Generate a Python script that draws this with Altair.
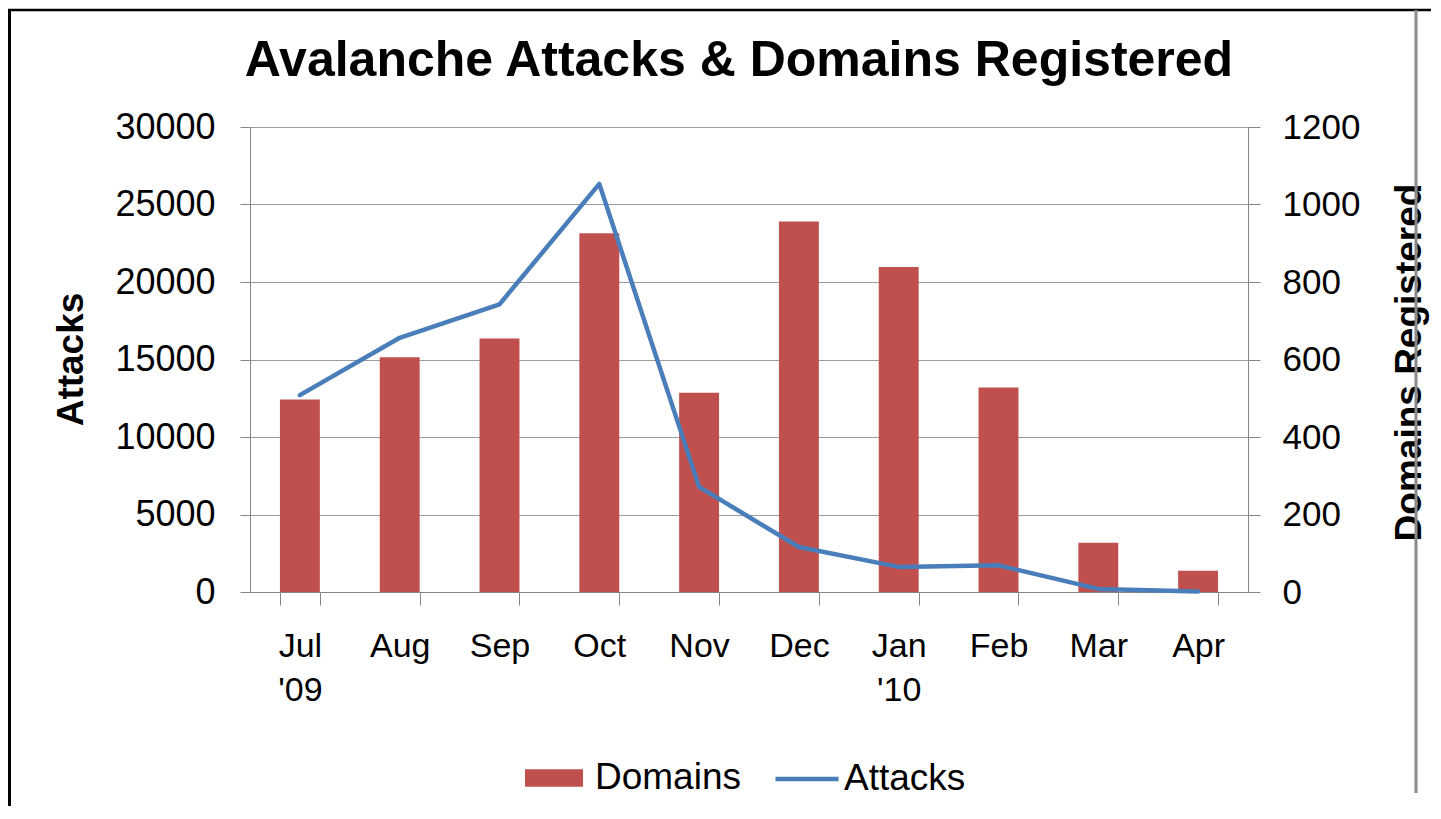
import json
import altair as alt
import pandas as pd

# ---- data ----
months = ["Jul", "Aug", "Sep", "Oct", "Nov", "Dec", "Jan", "Feb", "Mar", "Apr"]
years = ["'09", "", "", "", "", "", "'10", "", "", ""]
domains = [497, 606, 654, 926, 514, 956, 839, 528, 127, 55]
attacks = [12700, 16400, 18560, 26330, 6780, 2900, 1620, 1720, 200, 40]
attack_ticks = [0, 5000, 10000, 15000, 20000, 25000, 30000]
domain_ticks = [0, 200, 400, 600, 800, 1000, 1200]

df = pd.DataFrame({"month": months, "domains": domains, "attacks": attacks})

FONT = "Liberation Sans"
RED = "#c0504d"
BLUE = "#4a7ebb"
GRID = "#9c9c9c"
AXIS = "#878787"

W, H = 998, 465

parts = [f"datum.label == {json.dumps(m)} ? {json.dumps([m, y])}" for m, y in zip(months, years) if y]
label_expr = " : ".join(parts) + " : datum.label"

x_scale = alt.Scale(domain=months, paddingInner=0.6, paddingOuter=0.3)
x_axis = alt.Axis(
    title=None, labelAngle=0, labelExpr=label_expr, labelFont=FONT, labelFontSize=34,
    labelLineHeight=44, labelPadding=24, labelColor="black", tickBand="extent",
    tickSize=13, tickColor=AXIS, domainColor=AXIS, grid=False,
)

bars = (
    alt.Chart(df)
    .transform_calculate(s1="'Domains'")
    .mark_bar()
    .encode(
        x=alt.X("month:N", sort=months, scale=x_scale, axis=x_axis),
        y=alt.Y(
            "domains:Q",
            scale=alt.Scale(domain=[0, 1200], nice=False),
            axis=alt.Axis(
                orient="right", values=domain_ticks, format="d", grid=False,
                title="Domains Registered", titleFont=FONT, titleFontSize=37,
                titleFontWeight="bold", titleColor="black", titleAngle=270, titleX=172,
                titleY=235, titleAlign="center", titleBaseline="alphabetic",
                labelFont=FONT, labelFontSize=35, labelColor="black", labelPadding=22,
                tickSize=12, tickColor=AXIS, domainColor=AXIS,
            ),
        ),
        fill=alt.Fill(
            "s1:N",
            scale=alt.Scale(domain=["Domains"], range=[RED]),
            legend=alt.Legend(
                orient="none", legendX=275, legendY=622, title=None,
                symbolType="M-1,-0.3H1V0.3H-1Z", symbolSize=3364, symbolStrokeWidth=0,
                labelFont=FONT, labelFontSize=37, labelColor="black", labelOffset=12,
                labelLimit=400, padding=0,
            ),
        ),
    )
)

line = (
    alt.Chart(df)
    .transform_calculate(s2="'Attacks'")
    .mark_line(strokeWidth=4.5, strokeJoin="round", strokeCap="round")
    .encode(
        x=alt.X("month:N", sort=months, scale=x_scale, axis=x_axis, bandPosition=0.5),
        y=alt.Y(
            "attacks:Q",
            scale=alt.Scale(domain=[0, 30000], nice=False),
            axis=alt.Axis(
                orient="left", values=attack_ticks, format="d", grid=True,
                gridColor=GRID, gridWidth=1, title="Attacks", titleFont=FONT,
                titleFontSize=37, titleFontWeight="bold", titleColor="black",
                titleAngle=270, titleX=-168, titleY=232, titleAlign="center",
                titleBaseline="alphabetic", labelFont=FONT, labelFontSize=36,
                labelColor="black", labelPadding=25, tickSize=10, tickColor=AXIS,
                domainColor=AXIS,
            ),
        ),
        stroke=alt.Stroke(
            "s2:N",
            scale=alt.Scale(domain=["Attacks"], range=[BLUE]),
            legend=alt.Legend(
                orient="none", legendX=523, legendY=618, title=None,
                symbolType="stroke", symbolSize=3969, symbolStrokeWidth=4.5,
                labelFont=FONT, labelFontSize=37, labelColor="black", labelOffset=3,
                labelLimit=400, padding=0,
            ),
        ),
    )
)

frame_df = pd.DataFrame({"k": [0]})
top_rule = alt.Chart(frame_df).mark_rule(color="black", strokeWidth=2.5).encode(
    x=alt.value(-242), x2=alt.value(1181), y=alt.value(-117)
)
left_rule = alt.Chart(frame_df).mark_rule(color="black", strokeWidth=3).encode(
    x=alt.value(-240.5), y=alt.value(-117), y2=alt.value(684)
)
right_rule = alt.Chart(frame_df).mark_rule(color="#8a8a8a", strokeWidth=3).encode(
    x=alt.value(1166), y=alt.value(-117), y2=alt.value(666)
)

chart = (
    alt.layer(bars, line, top_rule, left_rule, right_rule)
    .resolve_scale(y="independent")
    .properties(
        width=W,
        height=H,
        autosize="none",
        padding={"left": 242, "top": 119, "right": 183, "bottom": 214},
        title=alt.Title(
            "Avalanche Attacks & Domains Registered", font=FONT, fontSize=50,
            fontWeight="bold", color="black", anchor="middle", dx=-10, dy=81,
        ),
    )
    .configure_view(strokeWidth=0)
    .configure(background="white")
)

chart.save("out.html", embed_options={"renderer": "svg", "actions": False})
